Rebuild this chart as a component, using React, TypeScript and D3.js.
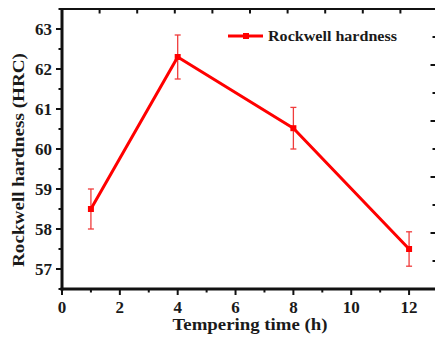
import * as d3 from "d3";

// ── Data ─────────────────────────────────────────────────────────────
const times = [1, 4, 8, 12];
const hardness = [58.5, 62.3, 60.52, 57.5];
const errors = [0.5, 0.55, 0.52, 0.43];

const xTicks = [0, 2, 4, 6, 8, 10, 12];
const yTicks = [57, 58, 59, 60, 61, 62, 63];

const W = 435;
const H = 338;
const FONT = "'Liberation Serif', 'Times New Roman', serif";
const RED = "#ff0000";

export default function App() {
  const x = d3.scaleLinear().domain([0, 13]).range([62, 438]);
  const y = d3.scaleLinear().domain([56.5, 63.5]).range([289, 9]);

  const xMinor = d3.range(1, 14, 2);
  const yMinor = d3.range(56.5, 63.6, 1);

  // mirror axes (top/right) have their own tick spacing in the source
  const topTicks = d3.range(1, 11).map((i) => 62 + (i * (438 - 62)) / 10);
  const rightTicks = d3.range(1, 10).map((i) => 9 + (i * (289 - 9)) / 10);

  const pts = times.map((t, i) => [t, hardness[i]] as [number, number]);
  const line = d3
    .line<[number, number]>()
    .x((d) => x(d[0]))
    .y((d) => y(d[1]));

  return (
    <svg
      width={W}
      height={H}
      style={{ position: "absolute", left: 0, top: 0, background: "#fff" }}
      fontFamily={FONT}
    >
      {/* frame */}
      <line x1={62} x2={62} y1={8} y2={290.5} stroke="#111" strokeWidth={3} />
      <line x1={60.5} x2={440} y1={289} y2={289} stroke="#111" strokeWidth={3} />
      <line x1={61} x2={440} y1={9} y2={9} stroke="#111" strokeWidth={2} />
      <line x1={438} x2={438} y1={9} y2={289} stroke="#111" strokeWidth={2} />

      {/* left ticks */}
      {yTicks.map((v) => (
        <g key={`y${v}`}>
          <line x1={56} x2={62} y1={y(v)} y2={y(v)} stroke="#111" strokeWidth={2} />
          <text
            x={52}
            y={y(v)}
            dy="0.35em"
            textAnchor="end"
            fontSize={17}
            fontWeight="bold"
            fill="#1a1a1a"
          >
            {v}
          </text>
        </g>
      ))}
      {yMinor.map((v) => (
        <line key={`ym${v}`} x1={58.5} x2={62} y1={y(v)} y2={y(v)} stroke="#111" strokeWidth={2} />
      ))}

      {/* bottom ticks */}
      {xTicks.map((v) => (
        <g key={`x${v}`}>
          <line x1={x(v)} x2={x(v)} y1={289} y2={295} stroke="#111" strokeWidth={2} />
          <text
            x={x(v)}
            y={313}
            textAnchor="middle"
            fontSize={17}
            fontWeight="bold"
            fill="#1a1a1a"
          >
            {v}
          </text>
        </g>
      ))}
      {xMinor.map((v) => (
        <line key={`xm${v}`} x1={x(v)} x2={x(v)} y1={289} y2={292.5} stroke="#111" strokeWidth={2} />
      ))}

      {/* top / right mirror ticks */}
      {topTicks.map((tx, i) => (
        <line key={`t${i}`} x1={tx} x2={tx} y1={9} y2={13.5} stroke="#111" strokeWidth={2} />
      ))}
      {rightTicks.map((ty, i) => (
        <line
          key={`r${i}`}
          x1={438}
          x2={i % 2 === 1 ? 430.5 : 432.5}
          y1={ty}
          y2={ty}
          stroke="#111"
          strokeWidth={2}
        />
      ))}

      {/* axis titles */}
      <text
        x={250}
        y={330}
        textAnchor="middle"
        fontSize={16}
        fontWeight="bold"
        fill="#1a1a1a"
        textLength={155}
        lengthAdjust="spacingAndGlyphs"
      >
        Tempering time (h)
      </text>
      <text
        transform="translate(24,160) rotate(-90)"
        textAnchor="middle"
        fontSize={17}
        fontWeight="bold"
        fill="#1a1a1a"
        textLength={214}
        lengthAdjust="spacingAndGlyphs"
      >
        Rockwell hardness (HRC)
      </text>

      {/* error bars */}
      {pts.map(([t, v], i) => {
        const cx = x(t);
        const top = y(v + errors[i]);
        const bot = y(v - errors[i]);
        return (
          <g key={`e${i}`} stroke="#f03c3c" strokeWidth={1.3}>
            <line x1={cx} x2={cx} y1={top} y2={bot} />
            <line x1={cx - 3} x2={cx + 3} y1={top} y2={top} />
            <line x1={cx - 3} x2={cx + 3} y1={bot} y2={bot} />
          </g>
        );
      })}

      {/* series */}
      <path d={line(pts) ?? ""} fill="none" stroke={RED} strokeWidth={3} strokeLinejoin="round" />
      {pts.map(([t, v], i) => (
        <rect key={`m${i}`} x={x(t) - 3} y={y(v) - 3} width={6} height={6} fill={RED} />
      ))}

      {/* legend */}
      <line x1={228} x2={263} y1={36} y2={36} stroke={RED} strokeWidth={3} />
      <rect x={243} y={33} width={6} height={6} fill={RED} />
      <text
        x={268}
        y={41}
        fontSize={15}
        fontWeight="bold"
        fill="#1a1a1a"
        textLength={129}
        lengthAdjust="spacingAndGlyphs"
      >
        Rockwell hardness
      </text>
    </svg>
  );
}
